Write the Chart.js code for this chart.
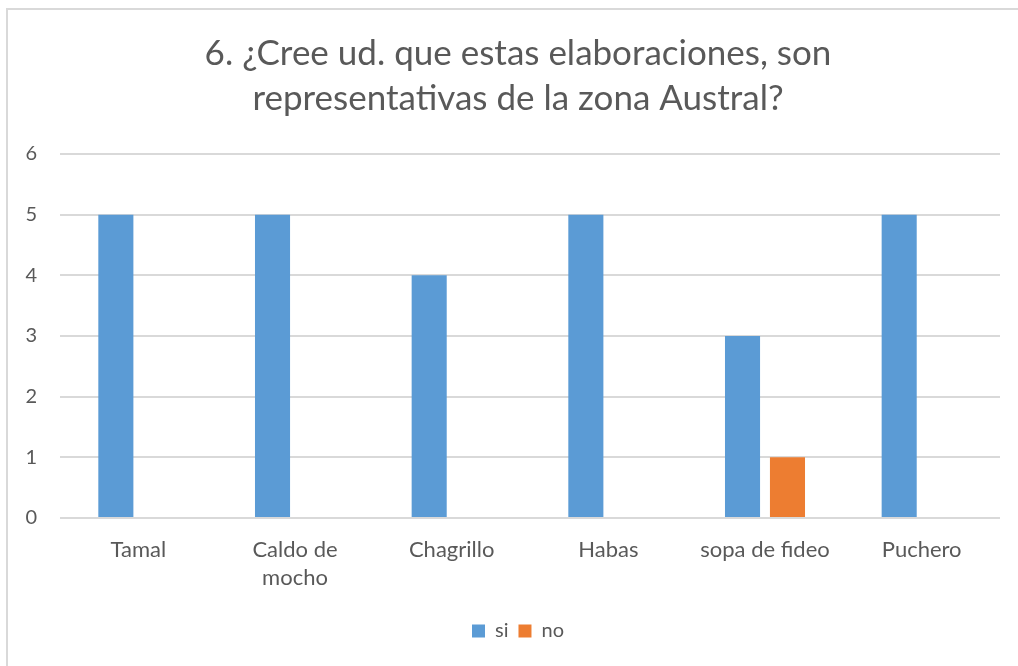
<!DOCTYPE html>
<html>
<head>
<meta charset="utf-8">
<script src="https://cdn.jsdelivr.net/npm/chart.js@4/dist/chart.umd.min.js"></script>
<style>
  html, body { margin: 0; padding: 0; background: #ffffff; }
  #wrap { position: relative; width: 1018px; height: 666px; }
  canvas { display: block; }
</style>
</head>
<body>
<div id="wrap"><canvas id="chart" width="1018" height="666"></canvas></div>
<script>
// Survey answers per dish
const categories = ['Tamal', ['Caldo de', 'mocho'], 'Chagrillo', 'Habas', 'sopa de fideo', 'Puchero'];
const siValues = [5, 5, 4, 5, 3, 5];
const noValues = [0, 0, 0, 0, 1, 0];
const yTicks = [0, 1, 2, 3, 4, 5, 6];

const TEXT = '#595959';
const GRID = '#d9d9d9';
const FONT = 'Lato, "Open Sans", sans-serif';

// Light frame on the left and top edges of the chart box
const framePlugin = {
  id: 'frame',
  beforeDraw(chart) {
    const ctx = chart.ctx;
    ctx.save();
    ctx.strokeStyle = GRID;
    ctx.lineWidth = 2;
    ctx.beginPath();
    ctx.moveTo(7, chart.height);
    ctx.lineTo(7, 9);
    ctx.lineTo(chart.width, 9);
    ctx.stroke();
    ctx.restore();
  }
};

new Chart(document.getElementById('chart'), {
  type: 'bar',
  data: {
    labels: categories,
    datasets: [
      { label: 'si', data: siValues, backgroundColor: '#5b9bd5', borderWidth: 0 },
      { label: 'no', data: noValues, backgroundColor: '#ed7d31', borderWidth: 0 }
    ]
  },
  options: {
    responsive: false,
    animation: false,
    devicePixelRatio: 1,
    categoryPercentage: 0.574,
    barPercentage: 0.78,
    layout: { padding: { left: 18, right: 0, top: 0, bottom: 15 } },
    plugins: {
      title: {
        display: true,
        text: ['6. ¿Cree ud. que estas elaboraciones, son', 'representativas de la zona Austral?'],
        color: TEXT,
        font: { family: FONT, size: 35, weight: 'normal', lineHeight: '45px' },
        padding: { top: 31, bottom: 33 }
      },
      legend: {
        display: true,
        position: 'bottom',
        labels: {
          color: TEXT,
          font: { family: FONT, size: 20 },
          boxWidth: 13,
          boxHeight: 13,
          padding: 10
        }
      },
      tooltip: { enabled: false }
    },
    scales: {
      x: {
        grid: { display: false, drawTicks: false },
        border: { display: false },
        ticks: {
          color: TEXT,
          font: { family: FONT, size: 22, lineHeight: '28px' },
          padding: 18,
          maxRotation: 0,
          autoSkip: false
        },
        afterFit(scale) { scale.height = 93; }
      },
      y: {
        min: 0,
        max: 6,
        grid: { color: GRID, lineWidth: 2, drawTicks: false },
        border: { display: false },
        afterBuildTicks(scale) { scale.ticks = yTicks.map(v => ({ value: v })); },
        ticks: {
          color: TEXT,
          font: { family: FONT, size: 20 },
          padding: 23
        },
        afterFit(scale) { scale.width = 42; }
      },
      // empty right-hand margin so the plot stops short of the frame edge
      gap: {
        type: 'linear',
        position: 'right',
        display: true,
        grid: { display: false, drawTicks: false },
        border: { display: false },
        ticks: { display: false },
        afterFit(scale) { scale.width = 18; }
      }
    }
  },
  plugins: [framePlugin]
});
</script>
</body>
</html>
